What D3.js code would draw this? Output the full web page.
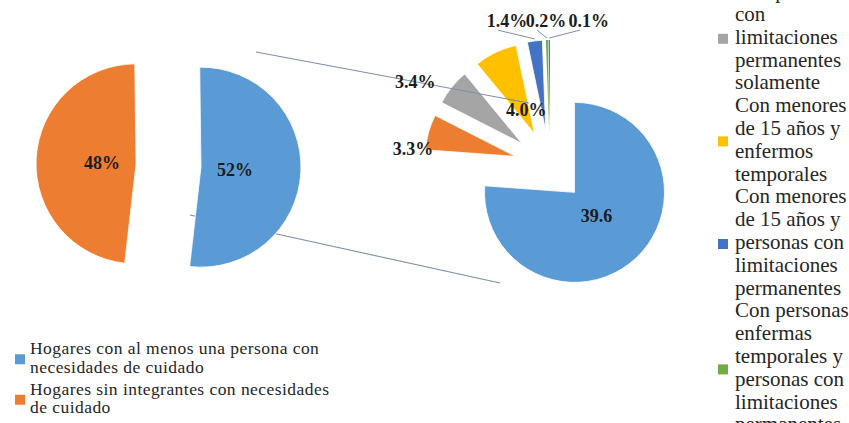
<!DOCTYPE html>
<html><head><meta charset="utf-8">
<script src="https://cdn.jsdelivr.net/npm/d3@7"></script>
<style>html,body{margin:0;padding:0;background:#fff;} svg{display:block}</style>
</head><body><svg id="c" width="849" height="423"></svg>
<script>
// ---------- DATA ----------
const mainCategories = ["Hogares con al menos una persona con necesidades de cuidado",
                        "Hogares sin integrantes con necesidades de cuidado"];
const mainValues = [52, 48];
const mainLabels = ["52%", "48%"];
const mainColors = ["#5B9BD5", "#ED7D31"];
const mainLegendLines = [["Hogares con al menos una persona con", "necesidades de cuidado"],
                         ["Hogares sin integrantes con necesidades", "de cuidado"]];

const subCategories = ["Con menores de 15 años solamente",
  "Con personas enfermas temporales solamente",
  "Con personas con limitaciones permanentes solamente",
  "Con menores de 15 años y enfermos temporales",
  "Con menores de 15 años y personas con limitaciones permanentes",
  "Con personas enfermas temporales y personas con limitaciones permanentes",
  "Con menores de 15 años, enfermos temporales y personas con limitaciones permanentes"];
const subValues = [39.6, 3.3, 3.4, 4.0, 1.4, 0.2, 0.1];
const subLabels = ["39.6", "3.3%", "3.4%", "4.0%", "1.4%", "0.2%", "0.1%"];
const subColors = ["#5B9BD5", "#ED7D31", "#A5A5A5", "#FFC000", "#4472C4", "#70AD47", "#255E91"];
// visible legend entries (index into sub arrays) with their wrapped lines
const subLegendIdx = [2, 3, 4, 5];
const subLegendLines = [["Con personas", "con", "limitaciones", "permanentes", "solamente"],
                        ["Con menores", "de 15 años y", "enfermos", "temporales"],
                        ["Con menores", "de 15 años y", "personas con", "limitaciones", "permanentes"],
                        ["Con personas", "enfermas", "temporales y", "personas con", "limitaciones", "permanentes"]];

// ---------- LAYOUT ----------
const W = 849, H = 423, deg = Math.PI / 180;
const FONT = "'Liberation Serif','Times New Roman',serif";
const mainC = {x: 168.5, y: 165.5}, mainR = 100, mainExplode = 32.5, mainRot = -0.7;
const subC = {x: 550, y: 166}, subR = 90, subExplode = 36;
// outside-label placement for small slices: [distance from centre, angle in degrees]
const subLabelPolar = [null, [138, 277], [159, 302], [61, 337], [151, 343.5], [145, 358.4], [150, 15]];
const leaderIdx = [4, 5, 6];

const svg = d3.select("#c");
svg.append("rect").attr("width", W).attr("height", H).attr("fill", "#fff");

const pol = (c, r, a) => ({x: c.x + r * Math.sin(a), y: c.y - r * Math.cos(a)});

// secondary pie
const subPie = d3.pie().sort(null).startAngle(0).endAngle(2 * Math.PI);
const subArcs = subPie(subValues);
const subArc = d3.arc().innerRadius(0).outerRadius(subR);
const gSub = svg.append("g");
subArcs.forEach((a, i) => {
  const mid = (a.startAngle + a.endAngle) / 2;
  const o = pol(subC, subExplode, mid);
  gSub.append("path").attr("transform", `translate(${o.x},${o.y})`)
    .attr("d", subArc(a)).attr("fill", subColors[i])
    .attr("stroke", "#fff").attr("stroke-width", i >= 5 ? 0 : 0.8);
});

// connector lines (main pie -> secondary pie)
const conn = svg.append("g").attr("stroke", "#7d8fa8").attr("stroke-width", 1.1).attr("fill", "none");
conn.append("line").attr("x1", mainC.x + 87.5).attr("y1", mainC.y - 113.5)
  .attr("x2", subC.x - 21).attr("y2", subC.y - 63);
conn.append("line").attr("x1", mainC.x + 21.5).attr("y1", mainC.y + 49.5)
  .attr("x2", subC.x - 50).attr("y2", subC.y + 117);

// main pie
const mainPie = d3.pie().sort(null).startAngle(mainRot * deg).endAngle((360 + mainRot) * deg);
const mainArcs = mainPie(mainValues);
const mainArc = d3.arc().innerRadius(0).outerRadius(mainR);
const gMain = svg.append("g");
mainArcs.forEach((a, i) => {
  const mid = (a.startAngle + a.endAngle) / 2;
  const o = pol(mainC, mainExplode, mid);
  gMain.append("path").attr("transform", `translate(${o.x},${o.y})`)
    .attr("d", mainArc(a)).attr("fill", mainColors[i]).attr("stroke", "#fff").attr("stroke-width", 0.8);
  const lp = pol(mainC, mainExplode + mainR * 0.34, mid);
  svg.append("text").attr("x", lp.x).attr("y", lp.y + 1).attr("text-anchor", "middle")
    .attr("dominant-baseline", "central").attr("font-family", FONT).attr("font-weight", "bold")
    .attr("font-size", 18).attr("fill", "#1c1c1c").text(mainLabels[i]);
});

// secondary labels
subArcs.forEach((a, i) => {
  const mid = (a.startAngle + a.endAngle) / 2;
  let lp;
  if (subLabelPolar[i]) lp = pol(subC, subLabelPolar[i][0], subLabelPolar[i][1] * deg);
  else lp = pol(subC, subExplode + subR * 0.36, mid);
  svg.append("text").attr("x", lp.x).attr("y", lp.y).attr("text-anchor", "middle")
    .attr("dominant-baseline", "central").attr("font-family", FONT).attr("font-weight", "bold")
    .attr("font-size", 18).attr("fill", "#1c1c1c").text(subLabels[i]);
  if (leaderIdx.includes(i)) {
    const tip = pol(pol(subC, subExplode, mid), subR, mid);
    svg.append("line").attr("x1", lp.x - 9).attr("y1", lp.y + 9).attr("x2", tip.x).attr("y2", tip.y - 2)
      .attr("stroke", "#7d8fa8").attr("stroke-width", 1);
  }
});

// main legend (bottom-left)
const lgMain = svg.append("g").attr("font-family", FONT).attr("font-size", 17.5)
  .attr("letter-spacing", 0.45).attr("fill", "#262626");
const mainLineH = 18.5;
let ly = 354;
mainLegendLines.forEach((lines, i) => {
  lgMain.append("rect").attr("x", 15).attr("y", ly + mainLineH / 2 - 9).attr("width", 10).attr("height", 10).attr("fill", mainColors[i]);
  lines.forEach((t, k) => {
    lgMain.append("text").attr("x", 30).attr("y", ly + k * mainLineH).text(t);
  });
  ly += lines.length * mainLineH + 3.5;
});

// secondary legend (right), top part clipped by the picture frame
const lgSub = svg.append("g").attr("font-family", FONT).attr("font-size", 21).attr("fill", "#262626");
const lineH = 22.8;
let ry = -6.8 + 5;
subLegendIdx.forEach((idx, j) => {
  const lines = subLegendLines[j];
  const centre = ry - 5 + (lines.length - 1) * lineH / 2;
  lgSub.append("rect").attr("x", 718).attr("y", centre - 5).attr("width", 10).attr("height", 10).attr("fill", subColors[idx]);
  lines.forEach((t, k) => {
    lgSub.append("text").attr("x", 735).attr("y", ry + k * lineH).text(t);
  });
  ry += lines.length * lineH;
});
</script></body></html>
